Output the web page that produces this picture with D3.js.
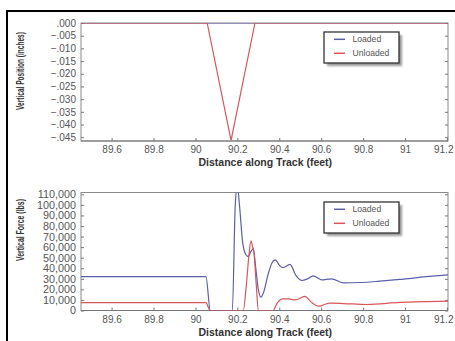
<!DOCTYPE html>
<html>
<head>
<meta charset="utf-8">
<script src="https://cdn.jsdelivr.net/npm/d3@7"></script>
<style>
  body { margin: 0; background: #fff; }
  text { font-family: "Liberation Sans", Arial, sans-serif; }
</style>
</head>
<body>
<div id="chart"></div>
<script>
// distance along track (feet)
const xTicks = [89.6, 89.8, 90, 90.2, 90.4, 90.6, 90.8, 91, 91.2];

// top panel: vertical position (inches)
const posTicks = [0, -0.005, -0.010, -0.015, -0.020, -0.025, -0.030, -0.035, -0.040, -0.045];
const posDist = [89.454, 90.056, 90.170, 90.284, 91.205];
const posLoaded = [0, 0, 0, 0, 0];
const posUnloaded = [0, 0, -0.0463, 0, 0];

// bottom panel: vertical force (lbs)
const forceTicks = [0, 10000, 20000, 30000, 40000, 50000, 60000, 70000, 80000, 90000, 100000, 110000];
const loadedDist = [89.454, 90.050, 90.071, 90.176, 90.190, 90.200, 90.210, 90.225, 90.240, 90.252, 90.265, 90.276,
  90.288, 90.300, 90.312, 90.325, 90.345, 90.365, 90.381, 90.400, 90.417, 90.451, 90.480, 90.508, 90.535,
  90.562, 90.602, 90.649, 90.705, 90.785, 90.880, 90.975, 91.100, 91.205];
const loadedForce = [32000, 32000, 0, 0, 100000, 118000, 100000, 65000, 53000, 51000, 56000, 58500,
  40000, 20000, 12600, 17000, 33000, 45000, 48000, 43000, 40500, 43600, 33000, 28400, 30000,
  32800, 29000, 30000, 26200, 26500, 27800, 29400, 32000, 33800];
const unloadedDist = [89.454, 90.050, 90.070, 90.228, 90.242, 90.255, 90.265, 90.272, 90.279, 90.290, 90.300,
  90.370, 90.390, 90.417, 90.445, 90.475, 90.522, 90.555, 90.586, 90.641, 90.705, 90.817, 90.975, 91.205];
const unloadedForce = [7500, 7500, 0, 0, 22000, 52000, 66000, 61000, 55000, 25000, 0,
  0, 7000, 11000, 11000, 10000, 13300, 7500, 4100, 6900, 6600, 5700, 7600, 8800];

const seriesNames = ['Loaded', 'Unloaded'];
const colors = { Loaded: '#5c5fa6', Unloaded: '#d8565a' };

const W = 455, H = 341;
const svg = d3.select('#chart').append('svg').attr('width', W).attr('height', H);

// drop shadow for legends
const defs = svg.append('defs');
defs.append('filter').attr('id', 'blur')
  .append('feGaussianBlur').attr('stdDeviation', 1.2);

// black frame (cropped at right/bottom)
svg.append('rect')
  .attr('x', 7).attr('y', 11).attr('width', 470).attr('height', 350)
  .attr('fill', 'none').attr('stroke', '#000').attr('stroke-width', 2);

function panel(opts) {
  const g = svg.append('g').attr('transform', `translate(${opts.left},${opts.top})`);
  const w = opts.width, h = opts.height;

  const x = d3.scaleLinear().domain([89.454, 91.205]).range([0, w]);
  const y = d3.scaleLinear().domain(opts.yDomain).range([h, 0]);

  const clipId = opts.id + '-clip';
  defs.append('clipPath').attr('id', clipId)
    .append('rect').attr('width', w).attr('height', h);

  // frame
  g.append('rect').attr('width', w).attr('height', h)
    .attr('fill', 'none').attr('stroke', '#8a8a8a').attr('stroke-width', 1);

  // axes with inward ticks
  const yAxis = g.append('g')
    .call(d3.axisLeft(y).tickValues(opts.yTicks).tickFormat(opts.yFormat).tickSize(-3).tickPadding(5));
  g.append('g').attr('transform', `translate(${w},0)`)
    .call(d3.axisRight(y).tickValues(opts.yTicks).tickFormat('').tickSize(-3));
  const xAxis = g.append('g').attr('transform', `translate(0,${h})`)
    .call(d3.axisBottom(x).tickValues(xTicks).tickFormat(d => String(d)).tickSize(-3).tickPadding(5));

  g.selectAll('.domain').remove();
  g.selectAll('.tick line').attr('stroke', '#777');
  yAxis.selectAll('text').attr('fill', '#555').style('font-size', opts.yFont + 'px');
  xAxis.selectAll('text').attr('fill', '#555').style('font-size', '10px');
  // last label sits against the edge of the page
  xAxis.selectAll('.tick').filter(d => d === 91.2).select('text')
    .attr('text-anchor', 'end').attr('x', 6);
  g.append('line').attr('x1', 0).attr('x2', w).attr('y1', h).attr('y2', h)
    .attr('stroke', '#777').attr('stroke-width', 1.2);

  // lines
  const line = d3.line()
    .x(d => x(d[0])).y(d => y(d[1]))
    .curve(opts.curve);
  const plot = g.append('g').attr('clip-path', `url(#${clipId})`);
  opts.series.forEach(s => {
    const pts = s.dist.map((d, i) => [d, s.vals[i]]);
    plot.append('path').datum(pts)
      .attr('fill', 'none')
      .attr('stroke', colors[s.name])
      .attr('stroke-width', 1.2)
      .attr('d', line);
  });

  // axis titles
  svg.append('text')
    .attr('x', opts.left + x(90.4) - 14).attr('y', opts.top + h + 25)
    .attr('text-anchor', 'middle')
    .attr('font-weight', 'bold').attr('font-size', 10.5).attr('fill', '#333')
    .text('Distance along Track (feet)');

  // condensed vertical title: squeeze with a scale so the box stays honest
  const yt = svg.append('text')
    .attr('text-anchor', 'middle')
    .attr('font-weight', 'bold').attr('font-size', 10).attr('fill', '#333')
    .text(opts.title);
  const k = opts.titleLen / yt.node().getComputedTextLength();
  yt.attr('transform', `translate(23.5,${opts.titleY}) rotate(-90) scale(${k},1)`);

  // legend
  const lg = svg.append('g').attr('transform', `translate(${opts.legendX},${opts.legendY})`);
  lg.append('rect').attr('x', 3).attr('y', 3).attr('width', 75).attr('height', 31)
    .attr('fill', '#999').attr('filter', 'url(#blur)');
  lg.append('rect').attr('width', 75).attr('height', 31)
    .attr('fill', '#fff').attr('stroke', '#333').attr('stroke-width', 1.3);
  seriesNames.forEach((n, i) => {
    const yy = 7.3 + i * 14;
    lg.append('line').attr('x1', 10).attr('x2', 21).attr('y1', yy).attr('y2', yy)
      .attr('stroke', colors[n]).attr('stroke-width', 1.5);
    lg.append('text').attr('x', 28.5).attr('y', yy + 3)
      .attr('font-size', 8.6).attr('fill', '#555').text(n);
  });
}

panel({
  id: 'pos', left: 81, top: 23, width: 367, height: 118,
  yDomain: [-0.0465, 0], yTicks: posTicks, yFont: 10,
  yFormat: d => d === 0 ? '.000' : d3.format('.3f')(d).replace('0.', '.'),
  curve: d3.curveLinear,
  series: [
    { name: 'Loaded', dist: posDist, vals: posLoaded },
    { name: 'Unloaded', dist: posDist, vals: posUnloaded }
  ],
  title: 'Vertical Position (inches)', titleY: 71, titleLen: 78,
  legendX: 324, legendY: 32
});

panel({
  id: 'force', left: 81, top: 192.5, width: 367, height: 118,
  yDomain: [0, 111700], yTicks: forceTicks, yFont: 10.8,
  yFormat: d3.format(','),
  curve: d3.curveMonotoneX,
  series: [
    { name: 'Loaded', dist: loadedDist, vals: loadedForce },
    { name: 'Unloaded', dist: unloadedDist, vals: unloadedForce }
  ],
  title: 'Vertical Force (lbs)', titleY: 230, titleLen: 62,
  legendX: 324, legendY: 202
});
</script>
</body>
</html>
